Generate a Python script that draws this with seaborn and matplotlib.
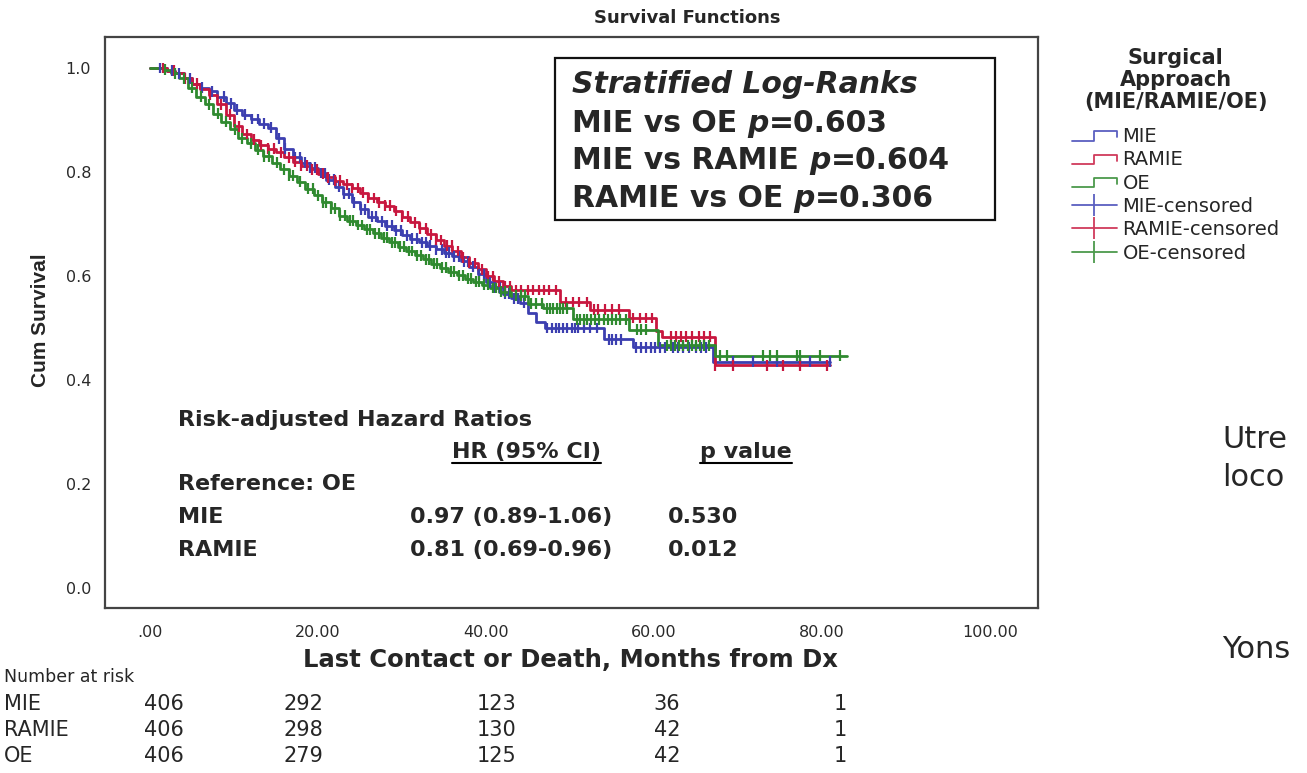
import numpy as np
import pandas as pd
import matplotlib
matplotlib.use("Agg")
import matplotlib.pyplot as plt
import seaborn as sns
from matplotlib import font_manager as fm
from matplotlib.lines import Line2D
from matplotlib.legend_handler import HandlerBase
from matplotlib.patches import Rectangle

# ---------------- data ----------------
groups = ["MIE", "RAMIE", "OE"]

mie_t = [0, 2, 3, 4, 5, 6, 7, 8, 9, 10, 11, 12, 13, 14, 15, 16, 17, 18, 19, 20,
         21, 22, 23, 24, 25, 26, 27, 28, 29, 30, 31, 32, 33, 34, 35, 36, 37, 38,
         39, 40, 41, 42, 43, 44, 45, 46, 47, 54, 57.5, 67, 81]
mie_s = [1.0, 0.995, 0.99, 0.98, 0.97, 0.962, 0.955, 0.945, 0.932, 0.92, 0.91,
         0.902, 0.893, 0.885, 0.865, 0.845, 0.828, 0.818, 0.808, 0.798, 0.785,
         0.772, 0.758, 0.742, 0.728, 0.714, 0.705, 0.697, 0.688, 0.678, 0.672,
         0.665, 0.658, 0.651, 0.645, 0.638, 0.628, 0.618, 0.603, 0.588, 0.578,
         0.566, 0.557, 0.548, 0.528, 0.512, 0.5, 0.478, 0.463, 0.435, 0.435]

ramie_t = [0, 2, 3, 4, 5, 6, 7, 8, 9, 10, 11, 12, 13, 14, 15, 16, 17, 18, 19,
           20, 21, 22, 23, 24, 25, 26, 27, 28, 29, 30, 31, 32, 33, 34, 35, 36,
           37, 38, 39, 40, 41, 42, 43, 48.8, 52.4, 57, 60.2, 61, 67.3, 81]
ramie_s = [1.0, 0.995, 0.99, 0.98, 0.97, 0.96, 0.948, 0.93, 0.91, 0.888, 0.873,
           0.862, 0.852, 0.845, 0.838, 0.828, 0.82, 0.812, 0.805, 0.797, 0.79,
           0.783, 0.776, 0.769, 0.76, 0.75, 0.742, 0.735, 0.725, 0.714, 0.703,
           0.692, 0.68, 0.669, 0.658, 0.648, 0.636, 0.625, 0.613, 0.6, 0.59,
           0.58, 0.573, 0.55, 0.535, 0.519, 0.495, 0.483, 0.428, 0.428]

oe_t = [0, 1.5, 2.5, 3.5, 4.5, 5.5, 6.5, 7.5, 8.5, 9.5, 10.5, 11.5, 12.5, 13.5,
        14.5, 15.5, 16.5, 17.5, 18.5, 19.5, 20.5, 21.5, 22.5, 23.5, 24.5, 25.5,
        26.5, 27.5, 28.5, 29.5, 30.5, 31.5, 32.5, 33.5, 34.5, 35.5, 36.5, 37.5,
        38.5, 39.5, 40.5, 41.5, 43, 45, 46.8, 50.4, 57, 60.5, 67.3, 83]
oe_s = [1.0, 0.997, 0.99, 0.98, 0.962, 0.945, 0.93, 0.912, 0.897, 0.882, 0.865,
        0.855, 0.843, 0.83, 0.818, 0.805, 0.793, 0.781, 0.768, 0.755, 0.742,
        0.73, 0.716, 0.706, 0.698, 0.69, 0.682, 0.674, 0.665, 0.656, 0.648,
        0.64, 0.632, 0.624, 0.616, 0.608, 0.601, 0.595, 0.589, 0.583, 0.577,
        0.57, 0.562, 0.547, 0.538, 0.517, 0.497, 0.467, 0.447, 0.447]

mie_cens = [1.2, 2.6, 3.5, 4.8, 6.2, 7.4, 8.8, 9.6, 10.4, 11.3, 12.1, 12.9,
            13.6, 14.4, 15.3, 16.1, 17.2, 17.8, 18.4, 19.0, 19.6,
            20.3, 20.8, 21.3, 21.9, 22.5, 23.1, 23.7, 24.3, 25.1, 25.6, 26.4,
            26.9, 27.6, 28.2, 28.8, 29.3, 29.9, 30.6, 31.2, 31.8, 32.4, 32.9,
            33.3, 34.0, 34.7, 35.2, 35.6, 36.2, 36.8, 37.4, 37.9, 38.5, 39.2,
            39.7, 40.5, 41.1, 41.6, 42.2, 42.7, 43.3, 43.8, 44.5, 47.3, 47.8,
            48.3, 48.7, 49.1, 49.6, 50.2, 50.6, 51.0, 51.6, 52.4, 53.2, 54.6,
            55.0, 55.5, 56.1, 57.9, 58.5, 59.0, 59.6, 60.1, 60.7, 61.3, 62.2,
            62.8, 63.5, 64.2, 65.0, 65.6, 66.2, 69.4, 71.8, 74.6, 77.4, 78.6,
            81.0]
ramie_cens = [1.5, 2.9, 4.2, 5.6, 7.1, 8.4, 9.5, 10.6, 11.6, 12.4, 13.2, 14.0,
              14.8, 15.6, 16.5, 17.3, 18.0, 18.7, 19.3, 19.9,
              20.6, 21.2, 22.0, 22.6, 23.4, 24.0, 24.8, 25.4, 26.0, 26.7, 27.3,
              28.0, 28.6, 29.3, 30.0, 30.7, 31.5, 32.1, 32.8, 33.4, 34.0, 34.6,
              35.3, 35.9, 36.6, 37.3, 38.0, 38.7, 39.5, 40.2, 40.8, 41.5, 42.2,
              42.8, 43.6, 44.2, 45.0, 45.6, 46.3, 46.9, 47.5, 48.3, 49.5, 50.3,
              51.1, 52.0, 52.8, 53.3, 54.2, 55.0, 55.8, 57.5, 58.3, 59.0, 59.8,
              62.0, 62.6, 63.2, 63.8, 64.5, 65.3, 66.0, 66.6, 67.3, 69.4, 73.5,
              75.4, 77.4, 80.6]
oe_cens = [1.8, 3.0, 4.1, 5.0, 6.1, 7.0, 8.1, 9.0, 10.1, 11.0, 12.0, 12.8,
           13.6, 14.2, 15.1, 15.9, 16.5, 17.0, 17.8, 18.8, 19.4,
           20.0, 20.6, 21.0, 21.6, 22.0, 22.6, 23.2, 23.8, 24.2, 24.8, 25.2,
           25.8, 26.2, 26.8, 27.2, 27.8, 28.2, 28.8, 29.2, 29.8, 30.2, 30.8,
           31.2, 31.8, 32.2, 32.8, 33.2, 33.8, 34.2, 34.8, 35.2, 35.8, 36.2,
           36.8, 37.2, 37.8, 38.2, 38.8, 39.2, 39.8, 40.2, 40.8, 41.2, 41.8,
           42.2, 42.9, 43.6, 44.1, 44.6, 45.3, 46.0, 46.6, 47.2, 47.6, 48.0,
           48.4, 48.8, 49.2, 49.6, 50.8, 51.2, 51.6, 52.0, 52.5, 53.0, 53.5,
           54.0, 54.5, 55.0, 55.5, 56.0, 56.6, 58.0, 58.5, 59.0, 61.5, 62.0,
           62.5, 63.0, 63.5, 64.0, 64.5, 65.0, 65.5, 66.0, 66.5, 67.9, 68.7,
           73.0, 73.8, 74.6, 77.0, 77.4, 79.8, 82.1]

xticks = [0, 20, 40, 60, 80, 100]
xtick_labels = [".00", "20.00", "40.00", "60.00", "80.00", "100.00"]
yticks = [0.0, 0.2, 0.4, 0.6, 0.8, 1.0]
ytick_labels = ["0.0", "0.2", "0.4", "0.6", "0.8", "1.0"]

risk_labels = ["MIE", "RAMIE", "OE"]
risk_mie = [406, 292, 123, 36, 1]
risk_ramie = [406, 298, 130, 42, 1]
risk_oe = [406, 279, 125, 42, 1]

logrank_lines = [("MIE vs OE ", "0.603"), ("MIE vs RAMIE ", "0.604"),
                 ("RAMIE vs OE ", "0.306")]
hr_rows = [("MIE", "0.97 (0.89-1.06)", "0.530"),
           ("RAMIE", "0.81 (0.69-0.96)", "0.012")]

colors = {"MIE": "#3c3fb0", "RAMIE": "#c8173f", "OE": "#2f8a2f"}
legend_colors = {"MIE": "#5b5fc0", "RAMIE": "#d03a5c", "OE": "#4c9a4c"}

# ---------------- figure ----------------
W, H = 1307, 773
sns.set_theme(style="white")
names = {f.name for f in fm.fontManager.ttflist}
SANS = "Liberation Sans" if "Liberation Sans" in names else "DejaVu Sans"
WIDE = "DejaVu Sans"
plt.rcParams["font.family"] = [WIDE]

fig = plt.figure(figsize=(W / 100, H / 100), dpi=100)
fig.patch.set_facecolor("white")


def fx(px):
    return px / W


def fy(py):
    return 1 - py / H


ax = fig.add_axes([fx(105), fy(608), fx(1038) - fx(105), fy(37) - fy(608)])

curves = {"MIE": (mie_t, mie_s), "RAMIE": (ramie_t, ramie_s), "OE": (oe_t, oe_s)}
cens = {"MIE": mie_cens, "RAMIE": ramie_cens, "OE": oe_cens}

rows = []
for g in groups:
    t, s = curves[g]
    for ti, si in zip(t, s):
        rows.append({"time": ti, "surv": si, "group": g})
df = pd.DataFrame(rows)

crow = []
for g in groups:
    t = np.asarray(curves[g][0])
    s = np.asarray(curves[g][1])
    for c in cens[g]:
        idx = np.searchsorted(t, c, side="right") - 1
        crow.append({"time": c, "surv": s[idx], "group": g})
cdf = pd.DataFrame(crow)

sns.lineplot(data=df, x="time", y="surv", hue="group", hue_order=groups,
             palette=colors, estimator=None, sort=False, drawstyle="steps-post",
             linewidth=2.0, legend=False, ax=ax)
sns.scatterplot(data=cdf, x="time", y="surv", hue="group", hue_order=groups,
                palette=colors, marker="|", s=60, linewidth=1.6, legend=False,
                ax=ax, zorder=3)

ax.set_xlim(-5.36, 105.7)
ax.set_ylim(-0.0385, 1.0596)
ax.set_xticks(xticks)
ax.set_xticklabels(xtick_labels)
ax.set_yticks(yticks)
ax.set_yticklabels(ytick_labels)
ax.tick_params(length=0, labelsize=11.5, colors="#2a2a2a")
ax.tick_params(axis="x", pad=12)
ax.tick_params(axis="y", pad=10)
ax.set_xlabel("")
ax.set_ylabel("")
for sp in ax.spines.values():
    sp.set_visible(True)
    sp.set_color("#444444")
    sp.set_linewidth(1.6)
ax.grid(False)

# titles and axis labels
fig.text(fx(687), fy(18), "Survival Functions", ha="center", va="center",
         fontsize=13, fontweight="bold", family=WIDE)
fig.text(fx(40), fy(320), "Cum Survival", ha="center", va="center",
         rotation=90, fontsize=15, fontweight="bold", family=SANS)
fig.text(fx(570), fy(660), "Last Contact or Death, Months from Dx", ha="center",
         va="center", fontsize=17.5, fontweight="bold", family=WIDE)

# log-rank box
fig.add_artist(Rectangle((fx(555), fy(220)), fx(995) - fx(555), fy(58) - fy(220),
                         transform=fig.transFigure, fill=False,
                         edgecolor="#111111", linewidth=1.6))

fig.canvas.draw()
renderer = fig.canvas.get_renderer()


def seq_text(x_px, y_px, parts, **common):
    x = fx(x_px)
    for txt, style in parts:
        t = fig.text(x, fy(y_px), txt, ha="left", va="baseline", **common, **style)
        bb = t.get_window_extent(renderer=renderer)
        x = bb.x1 / W


bold = {"fontweight": "bold"}
bi = {"fontweight": "bold", "style": "italic"}
fig.text(fx(572), fy(93), "Stratified Log-Ranks", ha="left", va="baseline",
         fontsize=21.5, family=WIDE, **bi)
for (lead, pv), yb in zip(logrank_lines, [132, 169, 207]):
    seq_text(572, yb, [(lead, bold), ("p", bi), ("=" + pv, bold)],
             fontsize=21.5, family=WIDE)

# hazard ratio block
HRFS = 16
fig.text(fx(178), fy(426), "Risk-adjusted Hazard Ratios", ha="left",
         va="baseline", fontsize=HRFS, family=WIDE, **bold)
h1 = fig.text(fx(452), fy(458), "HR (95% CI)", ha="left", va="baseline",
              fontsize=HRFS, family=WIDE, **bold)
h2 = fig.text(fx(700), fy(458), "p value", ha="left", va="baseline",
              fontsize=HRFS, family=WIDE, **bold)
for h in (h1, h2):
    bb = h.get_window_extent(renderer=renderer)
    fig.add_artist(Line2D([bb.x0 / W, bb.x1 / W], [fy(463)] * 2,
                          transform=fig.transFigure, color="black", lw=1.5))
fig.text(fx(178), fy(490), "Reference: OE", ha="left", va="baseline",
         fontsize=HRFS, family=WIDE, **bold)
for (name, hr, pv), yb in zip(hr_rows, [523, 556]):
    fig.text(fx(178), fy(yb), name, ha="left", va="baseline", fontsize=HRFS,
             family=WIDE, **bold)
    fig.text(fx(612), fy(yb), hr, ha="right", va="baseline", fontsize=HRFS,
             family=WIDE, **bold)
    fig.text(fx(668), fy(yb), pv, ha="left", va="baseline", fontsize=HRFS,
             family=WIDE, **bold)

# number at risk table
fig.text(fx(4), fy(677), "Number at risk", ha="left", va="center",
         fontsize=12.5, family=WIDE)
risk_vals = [risk_mie, risk_ramie, risk_oe]
row_y = [704, 730, 756]
col_x = [164, 303, 497, 667, 840]
for lab, vals, yy in zip(risk_labels, risk_vals, row_y):
    fig.text(fx(4), fy(yy), lab, ha="left", va="center", fontsize=15,
             family=WIDE)
    for v, xx in zip(vals, col_x):
        fig.text(fx(xx), fy(yy), str(v), ha="center", va="center",
                 fontsize=15, family=WIDE)

# slide text fragments at right edge
for txt, yy in [("Utre", 440), ("loco", 477), ("Yons", 650)]:
    fig.text(fx(1222), fy(yy), txt, ha="left", va="center", fontsize=22,
             family=WIDE)


# legend
class StepHandler(HandlerBase):
    def create_artists(self, legend, orig_handle, xdescent, ydescent, width,
                       height, fontsize, trans):
        x0, y0 = -xdescent, -ydescent
        xs = [x0, x0 + 0.5 * width, x0 + 0.5 * width, x0 + width, x0 + width]
        ys = [y0 + 0.1 * height, y0 + 0.1 * height, y0 + 0.8 * height,
              y0 + 0.8 * height, y0 + 0.35 * height]
        return [Line2D(xs, ys, color=orig_handle.get_color(), lw=1.3,
                       transform=trans)]


step_handles = [Line2D([], [], color=legend_colors[g]) for g in groups]
cens_handles = [Line2D([], [], color=legend_colors[g], marker="|",
                       markersize=16, markeredgewidth=1.3, lw=1.3)
                for g in groups]
labels = groups + [g + "-censored" for g in groups]
hmap = {h: StepHandler() for h in step_handles}
leg = fig.legend(step_handles + cens_handles, labels, handler_map=hmap,
                 loc="upper left", bbox_to_anchor=(fx(1072), fy(48)),
                 frameon=False, fontsize=14, handlelength=2.3,
                 handletextpad=0.3, labelspacing=0.22, borderaxespad=0,
                 borderpad=0,
                 title="Surgical\nApproach\n(MIE/RAMIE/OE)",
                 title_fontproperties={"weight": "bold", "size": 15,
                                       "family": WIDE})
leg.get_title().set_multialignment("center")
leg.get_title().set_linespacing(1.12)
leg._legend_box.sep = 11

fig.savefig("out.png", dpi=100, facecolor="white")
